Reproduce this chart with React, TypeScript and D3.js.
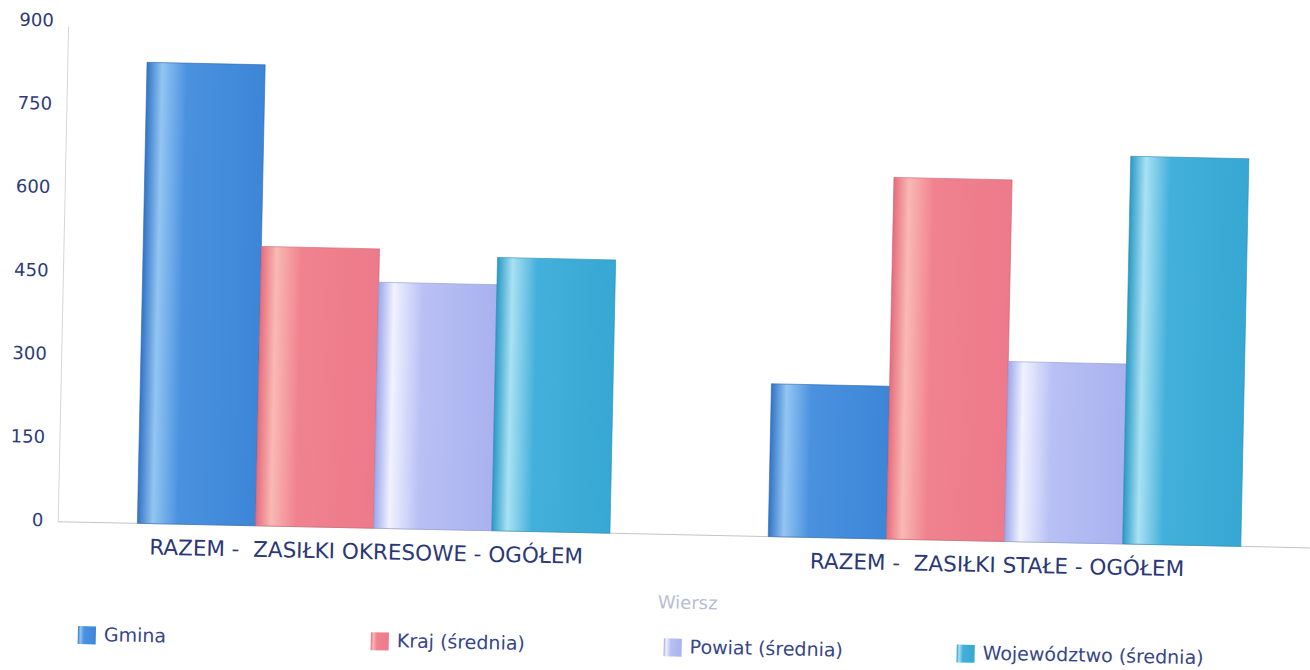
import React from 'react';
import * as d3 from 'd3';

// data
const categories = ['RAZEM -  ZASIŁKI OKRESOWE - OGÓŁEM', 'RAZEM -  ZASIŁKI STAŁE - OGÓŁEM'];
const seriesNames = ['Gmina', 'Kraj (średnia)', 'Powiat (średnia)', 'Województwo (średnia)'];
const gminaValues = [830, 275];
const krajValues = [503, 651];
const powiatValues = [443, 324];
const wojValues = [492, 698];
const yTicks = [0, 150, 300, 450, 600, 750, 900];
const xTitle = 'Wiersz';

const seriesValues = [gminaValues, krajValues, powiatValues, wojValues];

// gradient stops per series: [offset, color]
const gradients: [number, string][][] = [
  [[0, '#3174c6'], [0.13, '#93c5f2'], [0.34, '#4a92df'], [1, '#3d86d7']],
  [[0, '#e66c7d'], [0.13, '#f9b9b3'], [0.34, '#f0828f'], [1, '#ed7a8a']],
  [[0, '#9ca7ea'], [0.13, '#f0f2ff'], [0.38, '#b8c0f4'], [1, '#a9b2ef']],
  [[0, '#2a9ac5'], [0.13, '#a9e1f3'], [0.34, '#42b0da'], [1, '#37a8d3']],
];
const strokes = ['#2d66b0', '#c9606e', '#8f98d8', '#2a8ab2'];

const W = 1310;
const H = 670;
const left = 63;
const right = 1325;
const top = 34;
const bottom = 534;

export default function App() {
  const x = d3.scaleBand<string>().domain(categories).range([left, right]).padding(0);
  const xInner = d3
    .scaleBand<string>()
    .domain(seriesNames)
    .range([0, x.bandwidth()])
    .paddingInner(0)
    .paddingOuter(0.67);
  const y = d3.scaleLinear().domain([0, 900]).range([bottom, top]);
  const legendX = d3.scaleBand<string>().domain(seriesNames).range([85, 85 + 4 * 293]);

  const font = '"DejaVu Sans", Verdana, sans-serif';

  return (
    <svg width={W} height={H} style={{ position: 'absolute', left: 0, top: 0, background: '#fff' }}>
      <defs>
        {gradients.map((stops, i) => (
          <linearGradient key={i} id={'g' + i} x1="0" y1="0" x2="1" y2="0">
            {stops.map(([o, c], j) => (
              <stop key={j} offset={o} stopColor={c} />
            ))}
          </linearGradient>
        ))}
      </defs>
      <g transform="rotate(1.2, 650, 300)">
        {/* axes */}
        <line x1={left} x2={left} y1={top + 5} y2={bottom} stroke="#d6d6d6" strokeWidth={1} />
        <line x1={left} x2={right} y1={bottom} y2={bottom} stroke="#c4c4c4" strokeWidth={1} />

        {yTicks.map((t) => (
          <text
            key={t}
            x={left - 15}
            y={y(t)}
            textAnchor="end"
            dominantBaseline="middle"
            fontFamily={font}
            fontSize={18}
            fill="#2e3b78"
          >
            {t}
          </text>
        ))}

        {/* bars */}
        {categories.map((cat, ci) => (
          <g key={cat} transform={`translate(${x(cat)},0)`}>
            {seriesNames.map((s, si) => {
              const v = seriesValues[si][ci];
              return (
                <rect
                  key={s}
                  x={xInner(s)}
                  y={y(v)}
                  width={xInner.bandwidth()}
                  height={bottom - y(v)}
                  fill={`url(#g${si})`}
                  stroke={strokes[si]}
                  strokeWidth={0.6}
                />
              );
            })}
          </g>
        ))}

        {/* category labels */}
        {categories.map((cat) => (
          <text
            key={cat}
            x={(x(cat) as number) + x.bandwidth() / 2 - 7}
            y={559}
            textAnchor="middle"
            dominantBaseline="middle"
            fontFamily={font}
            fontSize={21.5}
            fill="#2b3877"
            style={{ whiteSpace: 'pre' }}
          >
            {cat}
          </text>
        ))}

        <text
          x={(left + right) / 2}
          y={603}
          textAnchor="middle"
          dominantBaseline="middle"
          fontFamily={font}
          fontSize={18}
          fill="#b9bcd6"
        >
          {xTitle}
        </text>

        {/* legend */}
        {seriesNames.map((s, si) => (
          <g key={s} transform={`translate(${legendX(s)},647)`}>
            <rect x={0} y={-9} width={18} height={18} fill={`url(#g${si})`} />
            <text x={26} y={0} dominantBaseline="middle" fontFamily={font} fontSize={19} fill="#37458a">
              {s}
            </text>
          </g>
        ))}
      </g>
    </svg>
  );
}
